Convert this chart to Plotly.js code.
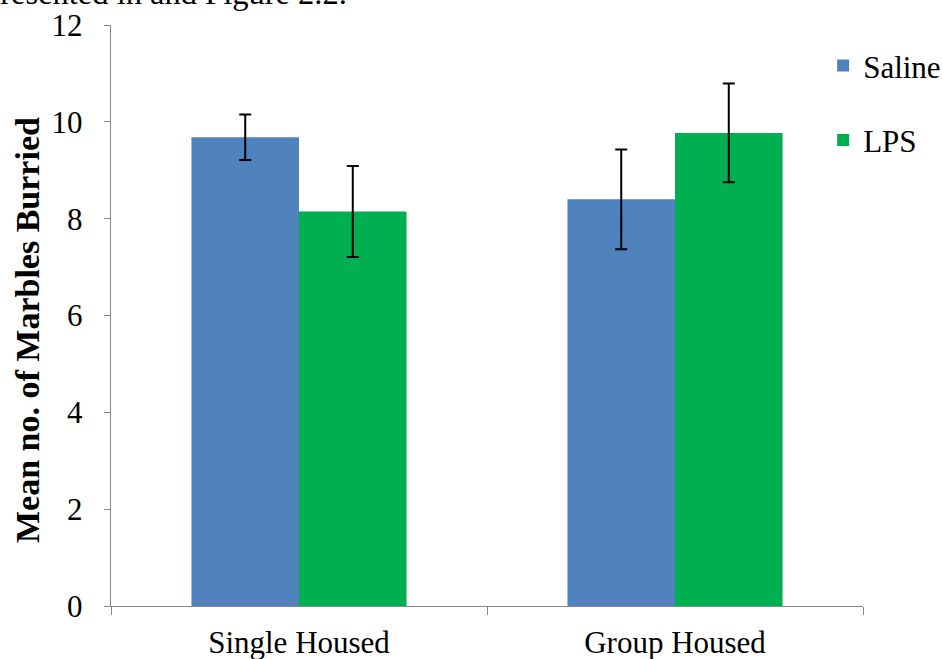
<!DOCTYPE html>
<html><head><meta charset="utf-8">
<script src="https://cdn.plot.ly/plotly-3.0.1.min.js"></script>
<style>
html,body{margin:0;padding:0;background:#fff;}
#chart{width:942px;height:659px;}
#chart text{font-family:'Liberation Serif','Times New Roman',serif !important;}
</style>
</head><body><div id="chart"></div>
<script>
const categories = ["Single Housed", "Group Housed"];
const salineMeans = [9.68, 8.40];
const salineErr = [0.47, 1.03];
const lpsMeans = [8.15, 9.77];
const lpsErr = [0.94, 1.02];
const yTicks = [0, 2, 4, 6, 8, 10, 12];
const yTitle = "Mean no. of Marbles Burried";
const topText = "presented in and Figure 2.2.";

const font = 'Liberation Serif, serif';
const errStyle = {type: 'data', visible: true, color: '#000', thickness: 2, width: 6};

const traces = [
  {type: 'bar', name: 'Saline', x: categories, y: salineMeans,
   error_y: Object.assign({array: salineErr}, errStyle),
   marker: {color: '#4f81bd'}, legendgroup: 'a'},
  {type: 'bar', name: 'LPS', x: categories, y: lpsMeans,
   error_y: Object.assign({array: lpsErr}, errStyle),
   marker: {color: '#00b050'}, legendgroup: 'b'}
];

const layout = {
  width: 942, height: 659,
  margin: {l: 111, r: 79, t: 25, b: 53, pad: 0, autoexpand: false},
  paper_bgcolor: '#fff', plot_bgcolor: '#fff',
  font: {family: font, size: 31, color: '#000'},
  barmode: 'group', bargap: 0.428, bargroupgap: 0,
  showlegend: true,
  legend: {x: 0.947, xanchor: 'left', y: 0.976, yanchor: 'top', yref: 'paper',
           font: {family: font, size: 31, color: '#000'},
           traceorder: 'grouped', tracegroupgap: 31, bgcolor: 'rgba(0,0,0,0)'},
  xaxis: {type: 'category', showline: true, linecolor: '#868686', linewidth: 1.3,
          ticks: 'outside', tickson: 'boundaries', ticklen: 8, tickcolor: '#868686',
          ticklabelstandoff: 8,
          tickfont: {family: font, size: 31, color: '#000'}, showgrid: false, zeroline: false,
          fixedrange: true},
  yaxis: {range: [0, 12], tickvals: yTicks, ticktext: yTicks.map(String),
          showline: true, linecolor: '#868686', linewidth: 1.3,
          ticks: 'outside', ticklen: 6, tickcolor: '#868686',
          ticklabelstandoff: 15,
          tickfont: {family: font, size: 31, color: '#000'}, showgrid: false, zeroline: false,
          fixedrange: true},
  annotations: [
    {text: topText, xref: 'paper', yref: 'paper',
     x: -0.172, y: 1.02, xanchor: 'left', yanchor: 'bottom', showarrow: false,
     font: {family: font, size: 32.5, color: '#000'}},
    {text: '<b>' + yTitle + '</b>', xref: 'paper', yref: 'paper', textangle: -90,
     x: (27 - 111) / 752, y: (606 - 330) / 581, xanchor: 'center', yanchor: 'middle', showarrow: false,
     font: {family: font, size: 34, color: '#000'}}
  ]
};

Plotly.newPlot('chart', traces, layout, {displayModeBar: false, staticPlot: true});
</script></body></html>
